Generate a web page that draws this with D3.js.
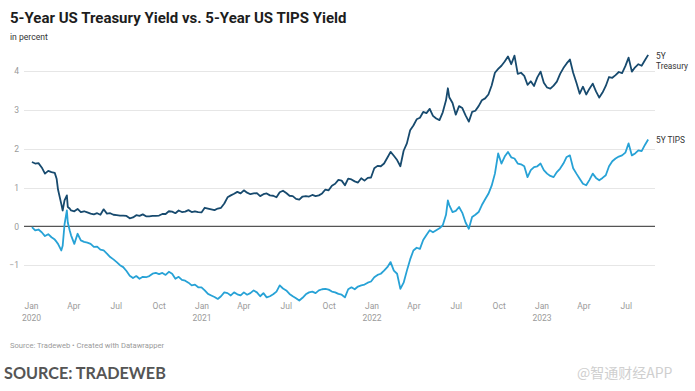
<!DOCTYPE html>
<html><head><meta charset="utf-8">
<script src="https://cdn.jsdelivr.net/npm/d3@7"></script>
<style>
html,body{margin:0;padding:0;background:#fff;}
svg{display:block;}
</style></head>
<body>
<svg id="chart" width="695" height="391"></svg>
<script>
// ---------- DATA ----------
const title = "5-Year US Treasury Yield vs. 5-Year US TIPS Yield";
const subtitle = "in percent";
const sourceNote = "Source: Tradeweb • Created with Datawrapper";
const sourceBig = "SOURCE: TRADEWEB";
const watermark = "@智通财经APP";
const seriesNames = ["5Y Treasury", "5Y TIPS"];
const yTicks = [-1, 0, 1, 2, 3, 4];
const xTickDates = ["2020-01-01","2020-04-01","2020-07-01","2020-10-01","2021-01-01","2021-04-01","2021-07-01","2021-10-01","2022-01-01","2022-04-01","2022-07-01","2022-10-01","2023-01-01","2023-04-01","2023-07-01"];
const xTickLabels = ["Jan|2020","Apr","Jul","Oct","Jan|2021","Apr","Jul","Oct","Jan|2022","Apr","Jul","Oct","Jan|2023","Apr","Jul"];

const dates = [
// 2020
"2020-01-03","2020-01-10","2020-01-17","2020-01-24","2020-01-31","2020-02-07","2020-02-14","2020-02-21","2020-02-25","2020-02-28",
"2020-03-06","2020-03-09","2020-03-13","2020-03-18","2020-03-20","2020-03-24","2020-03-27","2020-04-03","2020-04-10","2020-04-17",
"2020-04-24","2020-05-01","2020-05-08","2020-05-15","2020-05-22","2020-05-29","2020-06-05","2020-06-12","2020-06-19","2020-06-26",
"2020-07-03","2020-07-10","2020-07-17","2020-07-24","2020-07-31","2020-08-07","2020-08-14","2020-08-21","2020-08-28","2020-09-04",
"2020-09-11","2020-09-18","2020-09-25","2020-10-02","2020-10-09","2020-10-16","2020-10-23","2020-10-30","2020-11-06","2020-11-13",
"2020-11-20","2020-11-27","2020-12-04","2020-12-11","2020-12-18","2020-12-25",
// 2021
"2021-01-01","2021-01-08","2021-01-15","2021-01-22","2021-01-29","2021-02-05","2021-02-12","2021-02-19","2021-02-26","2021-03-05",
"2021-03-12","2021-03-19","2021-03-26","2021-04-02","2021-04-09","2021-04-16","2021-04-23","2021-04-30","2021-05-07","2021-05-14",
"2021-05-21","2021-05-28","2021-06-04","2021-06-11","2021-06-18","2021-06-25","2021-07-02","2021-07-09","2021-07-16","2021-07-23",
"2021-07-30","2021-08-06","2021-08-13","2021-08-20","2021-08-27","2021-09-03","2021-09-10","2021-09-17","2021-09-24","2021-10-01",
"2021-10-08","2021-10-15","2021-10-22","2021-10-29","2021-11-05","2021-11-12","2021-11-19","2021-11-26","2021-12-03","2021-12-10",
"2021-12-17","2021-12-24","2021-12-31",
// 2022
"2022-01-07","2022-01-14","2022-01-21","2022-01-28","2022-02-04","2022-02-11","2022-02-18","2022-02-25","2022-03-04","2022-03-11",
"2022-03-18","2022-03-25","2022-04-01","2022-04-08","2022-04-15","2022-04-22","2022-04-29","2022-05-06","2022-05-13","2022-05-20",
"2022-05-27","2022-06-03","2022-06-10","2022-06-14","2022-06-17","2022-06-24","2022-07-01","2022-07-08","2022-07-15","2022-07-22",
"2022-07-29","2022-08-05","2022-08-12","2022-08-19","2022-08-26","2022-09-02","2022-09-09","2022-09-16","2022-09-23","2022-09-30",
"2022-10-07","2022-10-14","2022-10-21","2022-10-28","2022-11-04","2022-11-11","2022-11-18","2022-11-25","2022-12-02","2022-12-09",
"2022-12-16","2022-12-23","2022-12-30",
// 2023
"2023-01-06","2023-01-13","2023-01-20","2023-01-27","2023-02-03","2023-02-10","2023-02-17","2023-02-24","2023-03-03","2023-03-10",
"2023-03-17","2023-03-24","2023-03-31","2023-04-07","2023-04-14","2023-04-21","2023-04-28","2023-05-05","2023-05-12","2023-05-19",
"2023-05-26","2023-06-02","2023-06-09","2023-06-16","2023-06-23","2023-06-30","2023-07-07","2023-07-14","2023-07-21","2023-07-28",
"2023-08-04","2023-08-11","2023-08-18"
];

const treasury = [
// 2020
1.66,1.62,1.63,1.52,1.36,1.43,1.40,1.38,1.23,0.95,
0.58,0.41,0.67,0.80,0.50,0.46,0.41,0.39,0.45,0.37,
0.39,0.36,0.33,0.31,0.34,0.30,0.44,0.33,0.34,0.30,
0.29,0.28,0.28,0.27,0.21,0.23,0.29,0.27,0.31,0.26,
0.26,0.27,0.27,0.28,0.32,0.32,0.39,0.38,0.34,0.41,
0.37,0.38,0.42,0.37,0.39,0.37,
// 2021
0.36,0.48,0.46,0.44,0.42,0.46,0.48,0.59,0.75,0.80,
0.84,0.89,0.85,0.93,0.87,0.83,0.85,0.86,0.78,0.83,
0.85,0.80,0.79,0.75,0.88,0.92,0.86,0.79,0.78,0.71,
0.69,0.77,0.78,0.77,0.81,0.78,0.80,0.85,0.95,0.93,
1.05,1.10,1.20,1.18,1.06,1.23,1.21,1.16,1.13,1.24,
1.18,1.25,1.26,
// 2022
1.50,1.56,1.55,1.62,1.77,1.92,1.82,1.71,1.55,1.95,
2.14,2.48,2.60,2.76,2.80,2.95,2.92,3.03,2.85,2.78,
2.74,2.94,3.25,3.56,3.33,3.18,2.88,3.10,3.05,2.86,
2.70,2.95,2.98,3.10,3.25,3.30,3.40,3.63,3.96,4.06,
4.14,4.25,4.38,4.18,4.40,3.93,3.96,3.88,3.65,3.74,
3.62,3.84,3.99,
// 2023
3.70,3.58,3.55,3.63,3.73,3.93,4.08,4.20,4.30,3.96,
3.70,3.42,3.60,3.40,3.55,3.68,3.48,3.32,3.45,3.62,
3.85,3.83,3.90,3.98,3.95,4.13,4.35,3.99,4.10,4.18,
4.14,4.28,4.42
];

const tips = [
// 2020
-0.02,-0.10,-0.08,-0.15,-0.25,-0.20,-0.28,-0.34,-0.40,-0.45,
-0.62,-0.50,0.05,0.41,0.10,-0.10,-0.23,-0.45,-0.19,-0.36,
-0.40,-0.42,-0.45,-0.53,-0.52,-0.60,-0.62,-0.70,-0.79,-0.85,
-0.92,-1.00,-1.05,-1.15,-1.27,-1.33,-1.28,-1.35,-1.30,-1.31,
-1.28,-1.22,-1.20,-1.23,-1.20,-1.25,-1.17,-1.22,-1.35,-1.30,
-1.38,-1.40,-1.45,-1.52,-1.50,-1.57,
// 2021
-1.57,-1.65,-1.74,-1.78,-1.82,-1.87,-1.80,-1.70,-1.72,-1.78,
-1.70,-1.75,-1.78,-1.70,-1.76,-1.72,-1.65,-1.70,-1.80,-1.72,
-1.83,-1.80,-1.75,-1.68,-1.52,-1.60,-1.65,-1.74,-1.80,-1.85,
-1.91,-1.84,-1.75,-1.70,-1.68,-1.72,-1.65,-1.62,-1.61,-1.63,
-1.68,-1.70,-1.74,-1.76,-1.83,-1.62,-1.57,-1.62,-1.55,-1.52,
-1.50,-1.45,-1.42,
// 2022
-1.31,-1.25,-1.22,-1.14,-1.05,-0.92,-1.14,-1.22,-1.61,-1.45,
-1.14,-0.85,-0.62,-0.55,-0.58,-0.35,-0.22,-0.10,-0.15,-0.10,
-0.05,0.03,0.30,0.67,0.55,0.37,0.40,0.50,0.35,0.10,
-0.06,0.24,0.30,0.37,0.55,0.70,0.84,1.05,1.36,1.88,
1.62,1.80,1.92,1.78,1.75,1.62,1.60,1.55,1.27,1.45,
1.53,1.55,1.62,
// 2023
1.45,1.36,1.30,1.27,1.40,1.49,1.62,1.79,1.83,1.50,
1.36,1.23,1.10,1.06,1.20,1.36,1.25,1.19,1.25,1.32,
1.55,1.68,1.75,1.80,1.83,1.90,2.14,1.83,1.88,1.96,
1.94,2.10,2.24
];

// ---------- DRAW ----------
const svg = d3.select("#chart");
const font = "Roboto, 'Noto Sans', sans-serif";
const parse = d3.utcParse("%Y-%m-%d");

const x = d3.scaleUtc()
  .domain([parse("2020-01-01"), parse("2023-01-01")])
  .range([31, 541.5]);
const y = d3.scaleLinear().domain([-1, 4]).range([265.2, 71.2]);

const n = Math.min(dates.length, treasury.length, tips.length);
const rows = d3.range(n).map(i => ({d: parse(dates[i]), t: treasury[i], p: tips[i]}));

// title
svg.append("text").attr("x", 10).attr("y", 22.5).attr("font-family", font)
  .attr("font-weight", 700).attr("font-size", 15).attr("fill", "#1d1d1d").text(title);
svg.append("text").attr("x", 10).attr("y", 40).attr("font-family", font)
  .attr("font-size", 8.6).attr("fill", "#333").text(subtitle);

// grid
const yAxis = d3.axisLeft(y).tickValues(yTicks).tickSize(0)
  .tickFormat(v => v < 0 ? "\u2212" + Math.abs(v) : v);
const gy = svg.append("g").attr("transform", "translate(20,0)").call(yAxis);
gy.select(".domain").remove();
gy.selectAll("text").attr("font-family", font).attr("font-size", 8.5)
  .attr("fill", "#9a9a9a").attr("x", -1).attr("text-anchor", "end");
svg.append("g").selectAll("line").data(yTicks.filter(v => v !== 0)).join("line")
  .attr("x1", 24).attr("x2", 655)
  .attr("y1", d => Math.round(y(d)) + 0.5).attr("y2", d => Math.round(y(d)) + 0.5)
  .attr("stroke", "#e6e6e6").attr("stroke-width", 1);

// x axis labels
const xAxis = d3.axisBottom(x).tickValues(xTickDates.map(parse)).tickSize(0)
  .tickFormat((d, i) => xTickLabels[i]);
const gx = svg.append("g").attr("transform", "translate(0,303)").call(xAxis);
gx.select(".domain").remove();
gx.selectAll(".tick text").each(function(d, i) {
  const parts = xTickLabels[i].split("|");
  const t = d3.select(this).text(null).attr("font-family", font).attr("font-size", 8.5)
    .attr("fill", "#9a9a9a").attr("y", 0);
  parts.forEach((p, k) => t.append("tspan").attr("x", 0).attr("dy", k === 0 ? "0.71em" : "1.35em").text(p));
});

// zero line
svg.append("line").attr("x1", 24).attr("x2", 655)
  .attr("y1", y(0)).attr("y2", y(0)).attr("stroke", "#555").attr("stroke-width", 1.4);

// lines
const lineT = d3.line().x(d => x(d.d)).y(d => y(d.t));
const lineP = d3.line().x(d => x(d.d)).y(d => y(d.p));
svg.append("path").datum(rows).attr("d", lineP).attr("fill", "none")
  .attr("stroke", "#27a2d6").attr("stroke-width", 1.8).attr("stroke-linejoin", "round");
svg.append("path").datum(rows).attr("d", lineT).attr("fill", "none")
  .attr("stroke", "#174a6e").attr("stroke-width", 1.8).attr("stroke-linejoin", "round");

// end labels
const last = rows[rows.length - 1];
const lbl = svg.append("g").attr("font-family", font).attr("font-size", 8.3).attr("fill", "#333");
const lt = lbl.append("text").attr("x", 656).attr("y", y(last.t) + 4);
lt.append("tspan").attr("x", 656).attr("dy", 0).text("5Y");
lt.append("tspan").attr("x", 656).attr("dy", 10.5).text("Treasury");
lbl.append("text").attr("x", 656).attr("y", y(last.p) + 4).text(seriesNames[1]);

// source
svg.append("text").attr("x", 10).attr("y", 348).attr("font-family", font)
  .attr("font-size", 7.6).attr("fill", "#9a9a9a").text(sourceNote);
svg.append("text").attr("x", 4).attr("y", 378.5).attr("font-family", "Lato, sans-serif")
  .attr("font-weight", 700).attr("font-size", 16.2).attr("fill", "#555").text(sourceBig);
svg.append("text").attr("x", 577).attr("y", 378).attr("font-family", "'Noto Sans CJK SC', sans-serif")
  .attr("font-size", 14).attr("fill", "#cfcfcf").text(watermark);
</script>
</body></html>
